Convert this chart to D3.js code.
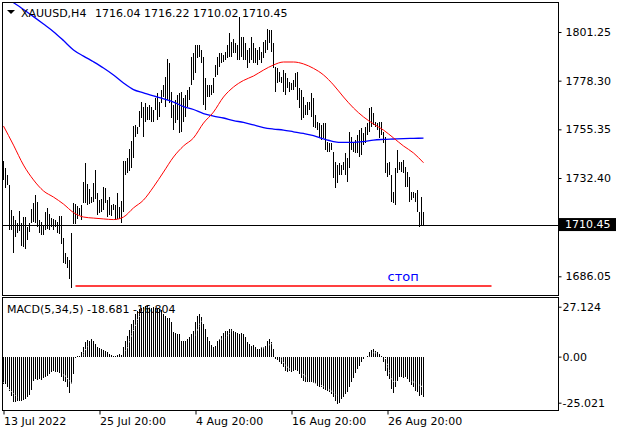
<!DOCTYPE html>
<html>
<head>
<meta charset="utf-8">
<script src="https://cdn.jsdelivr.net/npm/d3@7"></script>
<style>
	body { margin: 0; background: #fff; }
	svg { display: block; font-family: "DejaVu Sans", sans-serif; font-size: 11px; }
</style>
</head>
<body>
<div id="chart"></div>
<script>
// H4 bars, high / low only (bar chart at this zoom shows no open/close ticks)
const highs = [
	1740.6, 1737.0, 1733.8, 1729.1, 1717.3, 1714.5, 1712.6, 1711.3, 1717.0, 1711.0,
	1713.8, 1713.8, 1709.4, 1711.3, 1717.8, 1720.8, 1724.4, 1721.2, 1712.6, 1711.8,
	1710.2, 1716.5, 1718.1, 1715.4, 1713.4, 1712.9, 1712.6, 1711.8, 1714.5, 1714.5,
	1703.9, 1696.9, 1695.0, 1693.7, 1706.3, 1720.4, 1720.1, 1719.2, 1718.1, 1719.7,
	1730.7, 1739.6, 1729.6, 1727.1, 1723.6, 1730.2, 1736.2, 1725.5, 1722.0, 1722.3,
	1728.3, 1727.5, 1722.0, 1723.6, 1719.7, 1720.1, 1719.7, 1725.5, 1718.9, 1721.5,
	1740.6, 1740.6, 1741.7, 1745.9, 1750.0, 1757.0, 1757.4, 1756.6, 1764.0, 1768.4,
	1766.0, 1767.6, 1766.0, 1766.8, 1766.0, 1764.5, 1769.9, 1772.3, 1768.4, 1773.9,
	1776.3, 1780.2, 1788.4, 1786.5, 1773.1, 1766.8, 1769.2, 1771.5, 1772.3, 1773.1,
	1769.9, 1771.5, 1773.9, 1775.5, 1789.6, 1791.5, 1795.1, 1795.1, 1795.1, 1792.8,
	1789.6, 1779.4, 1776.3, 1776.3, 1776.3, 1779.4, 1785.7, 1789.6, 1791.2, 1791.2,
	1790.4, 1792.0, 1795.1, 1800.6, 1796.7, 1797.8, 1795.9, 1795.1, 1808.5, 1799.0,
	1799.0, 1795.9, 1792.8, 1793.5, 1799.0, 1795.9, 1793.5, 1792.8, 1794.3, 1792.0,
	1796.7, 1797.5, 1802.5, 1802.2, 1802.2, 1795.9, 1784.9, 1784.1, 1782.5, 1780.2,
	1783.3, 1781.8, 1779.4, 1777.8, 1777.0, 1778.6, 1781.8, 1782.5, 1774.7, 1773.9,
	1770.8, 1766.8, 1768.4, 1768.4, 1772.3, 1770.0, 1762.1, 1759.0, 1758.2, 1757.4,
	1758.2, 1758.2, 1749.5, 1748.8, 1748.8, 1744.8, 1740.1, 1738.5, 1739.3, 1738.5,
	1740.1, 1744.1, 1741.7, 1754.2, 1751.9, 1749.5, 1750.3, 1752.7, 1755.1, 1755.8,
	1753.5, 1756.6, 1758.2, 1765.2, 1766.0, 1762.9, 1758.9, 1758.2, 1758.9, 1758.9,
	1754.2, 1751.9, 1739.3, 1740.1, 1733.8, 1725.9, 1736.9, 1745.6, 1740.1, 1740.1,
	1740.9, 1737.7, 1735.4, 1733.0, 1725.9, 1725.9, 1725.2, 1726.7, 1716.5, 1723.6,
	1716.22
];
const lows = [
	1731.5, 1727.5, 1729.1, 1707.9, 1707.9, 1697.2, 1704.7, 1706.3, 1707.6, 1700.3,
	1699.7, 1698.8, 1703.2, 1707.1, 1711.0, 1711.8, 1711.3, 1709.4, 1706.6, 1705.5,
	1705.5, 1707.9, 1708.2, 1707.9, 1709.1, 1707.9, 1709.1, 1706.3, 1706.0, 1701.3,
	1692.5, 1691.8, 1689.8, 1684.6, 1680.4, 1710.7, 1710.7, 1712.9, 1715.0, 1712.6,
	1720.4, 1720.8, 1719.7, 1720.1, 1720.4, 1721.2, 1722.3, 1715.0, 1715.7, 1716.5,
	1717.3, 1720.8, 1713.8, 1715.0, 1714.5, 1717.3, 1712.6, 1712.9, 1712.9, 1711.3,
	1716.5, 1733.8, 1734.6, 1735.9, 1737.0, 1741.7, 1751.9, 1753.0, 1756.6, 1760.5,
	1751.9, 1758.9, 1759.7, 1759.7, 1758.9, 1758.9, 1764.5, 1759.7, 1761.3, 1767.6,
	1770.7, 1766.0, 1769.2, 1767.6, 1760.5, 1755.0, 1758.2, 1759.7, 1753.5, 1754.2,
	1758.9, 1761.3, 1766.0, 1769.2, 1776.3, 1778.6, 1781.7, 1788.8, 1789.6, 1786.5,
	1766.8, 1764.5, 1770.7, 1770.7, 1771.5, 1772.3, 1780.2, 1781.0, 1784.9, 1786.5,
	1787.3, 1788.0, 1788.8, 1789.6, 1789.6, 1791.2, 1791.2, 1788.0, 1788.0, 1789.6,
	1788.0, 1788.0, 1784.1, 1786.5, 1788.0, 1786.5, 1786.5, 1785.7, 1788.0, 1786.5,
	1788.8, 1791.2, 1792.8, 1795.9, 1792.0, 1784.1, 1773.1, 1777.0, 1777.8, 1777.0,
	1773.1, 1771.5, 1774.7, 1773.1, 1773.9, 1773.9, 1775.5, 1769.2, 1765.2, 1759.7,
	1760.5, 1762.1, 1762.1, 1764.5, 1761.3, 1756.6, 1755.8, 1755.1, 1751.1, 1750.3,
	1751.1, 1745.6, 1744.8, 1744.8, 1745.6, 1732.2, 1727.5, 1729.9, 1733.8, 1733.8,
	1736.1, 1733.8, 1730.6, 1736.9, 1745.6, 1744.8, 1744.1, 1744.1, 1742.5, 1743.2,
	1748.0, 1748.8, 1752.7, 1754.2, 1756.6, 1757.4, 1756.6, 1755.1, 1751.1, 1752.7,
	1748.8, 1734.6, 1733.0, 1733.8, 1721.2, 1720.4, 1719.7, 1734.6, 1736.1, 1735.4,
	1734.6, 1728.3, 1728.3, 1721.2, 1722.0, 1722.8, 1721.2, 1716.5, 1709.4, 1710.2,
	1710.02
];

// moving averages
const maBars = [
	0, 5, 10, 15, 20, 25, 30, 35, 40, 45, 50, 55, 60, 65, 70, 75, 80, 85, 90, 95, 100,
	105, 110, 115, 120, 125, 130, 135, 140, 145, 150, 155, 160, 165, 170, 175, 180, 185,
	190, 195, 200, 205, 210
];
const redMa = [
	1756.9, 1747.9, 1738.5, 1731.5, 1726.3, 1723.4, 1720.1, 1716.1, 1714.0, 1713.5, 1713.1,
	1712.8, 1714.0, 1718.3, 1722.0, 1728.2, 1735.2, 1742.3, 1747.5, 1751.3, 1758.3,
	1763.5, 1770.6, 1775.3, 1778.4, 1780.5, 1783.3, 1785.7, 1787.1, 1787.1, 1786.2,
	1784.1, 1781.0, 1776.3, 1770.6, 1765.4, 1761.2, 1757.9, 1755.0, 1751.3, 1747.5,
	1744.2, 1739.6
];
const blueMa = [
	1818.2, 1815.1, 1811.9, 1808.5, 1805.0, 1801.4, 1797.2, 1792.8, 1789.9, 1787.2, 1784.3,
	1781.0, 1777.2, 1774.1, 1772.6, 1771.1, 1769.7, 1768.2, 1766.1, 1764.7, 1762.8,
	1761.6, 1760.7, 1759.5, 1758.6, 1757.4, 1756.2, 1755.5, 1755.0, 1754.2, 1753.4,
	1752.4, 1750.8, 1749.6, 1749.2, 1749.2, 1749.6, 1750.3, 1750.6, 1750.8, 1751.0,
	1751.1, 1751.2
];

const macdHist = [
	-14.8, -14.8, -16.6, -18.4, -21.2, -24.8, -24.8, -23.9, -23.9, -23.9,
	-23.5, -23.0, -21.7, -20.6, -18.1, -13.0, -12.1, -12.7, -12.1, -12.7,
	-11.6, -10.8, -10.3, -9.4, -8.5, -8.0, -8.3, -8.5, -9.0, -10.8,
	-13.0, -13.9, -16.6, -19.9, -14.8, -9.4, -0.5, 0.2, 0.5, 2.4,
	5.1, 7.8, 9.0, 8.7, 9.6, 8.7, 6.9, 5.1, 4.7, 4.2,
	3.6, 3.3, 2.4, 1.4, 1.1, 0.5, 0.2, 1.1, 1.4, 1.1,
	5.1, 8.7, 11.4, 14.5, 17.9, 19.7, 23.0, 24.8, 25.7, 26.6,
	27.0, 27.5, 27.5, 27.0, 26.6, 27.0, 26.2, 25.7, 25.7, 25.1,
	23.0, 22.0, 21.0, 21.2, 18.6, 13.2, 12.7, 12.1, 12.1, 8.7,
	8.7, 8.7, 9.6, 10.5, 12.1, 14.1, 18.6, 22.1, 23.0, 21.7,
	17.7, 15.0, 10.5, 8.7, 6.5, 5.4, 6.0, 8.7, 9.6, 11.4,
	12.7, 13.7, 14.1, 15.0, 15.0, 14.1, 13.2, 12.7, 12.1, 12.7,
	12.1, 10.5, 7.8, 6.9, 6.0, 6.5, 5.4, 4.2, 4.2, 5.1,
	5.1, 6.0, 8.7, 9.6, 7.8, 4.2, -1.3, -1.8, -3.1, -4.0,
	-5.8, -7.6, -8.5, -8.0, -8.5, -8.0, -7.2, -7.6, -9.4, -11.6,
	-13.0, -13.9, -13.9, -13.9, -13.9, -14.5, -14.8, -15.7, -16.3, -16.6,
	-17.5, -18.1, -18.4, -19.3, -20.2, -21.7, -23.9, -25.7, -25.3, -23.0,
	-21.7, -20.2, -19.3, -16.6, -13.9, -11.6, -9.0, -6.7, -4.9, -3.1,
	-1.3, -0.4, 0.5, 2.4, 3.6, 4.2, 3.3, 2.4, 1.4, 0.2,
	-3.1, -7.6, -10.3, -12.1, -17.5, -19.9, -16.6, -13.0, -11.2, -10.8,
	-11.6, -11.2, -12.1, -13.9, -15.2, -16.6, -18.4, -19.3, -21.2, -20.6,
	-21.7
];
const macdSignal = [
	-14, -20, -24, -19.3, -12.2, -9.4, -9.9, -14.9, 1.5, 8.8, 4.9, 1.7, 1.8, 14.4, 25.4,
	27.1, 25.1, 19.2, 10.9, 11, 20.6, 9.2, 9.7, 14.4, 12.6, 7.5, 4.8, 7.3, -3.2, -8.1,
	-9.8, -14, -16.2, -19.5, -23.9, -16.3, -5, 2.1, 0.8, -13.5, -12.6, -13.8, -16.8
];

const priceTicks = [1801.25, 1778.30, 1755.35, 1732.40, 1686.05];
const macdTicks = [27.124, 0, -25.021];
const macdTickLabels = ["27.124", "0.00", "-25.021"];
const timeTickBars = [0, 48, 96, 144, 192];
const timeTickLabels = ["13 Jul 2022", "25 Jul 20:00", "4 Aug 20:00", "16 Aug 20:00", "26 Aug 20:00"];

const lastPrice = 1710.45;
const stopPrice = 1681.5;
const stopBars = [36, 244];
const stopLabelBar = 192;

const width = 622, height = 434;
const panelLeft = 2.5, panelRight = 558.5, panelTop = 2.5;
const mainBottom = 295.5, macdTop = 297.5, macdBottom = 410.5;

const x = d3.scaleLinear().domain([0, highs.length - 1]).range([3.5, 423.5]);
const y = d3.scaleLinear().domain([1801.25, 1686.05]).range([32, 276.3]);
const ym = d3.scaleLinear().domain([27.124, -25.021]).range([306.7, 402.7]);

const svg = d3.select("#chart")
	.append("svg")
	.attr("width", width)
	.attr("height", height);

svg.append("defs")
	.append("clipPath")
	.attr("id", "main-clip")
	.append("rect")
	.attr("x", panelLeft)
	.attr("y", panelTop)
	.attr("width", panelRight - panelLeft)
	.attr("height", mainBottom - panelTop);

const main = svg.append("g").attr("clip-path", "url(#main-clip)");

main.selectAll("line.bar")
	.data(highs)
	.enter()
	.append("line")
	.attr("class", "bar")
	.attr("x1", (d, i) => x(i))
	.attr("x2", (d, i) => x(i))
	.attr("y1", d => y(d))
	.attr("y2", (d, i) => y(lows[i]))
	.attr("stroke", "#000")
	.attr("stroke-width", 1)
	.attr("shape-rendering", "crispEdges");

const maLine = d3.line()
	.x((d, k) => x(maBars[k]))
	.y(d => y(d))
	.curve(d3.curveMonotoneX);

main.append("path")
	.attr("d", maLine(blueMa))
	.attr("fill", "none")
	.attr("stroke", "#0000ff")
	.attr("stroke-width", 1.3);

main.append("path")
	.attr("d", maLine(redMa))
	.attr("fill", "none")
	.attr("stroke", "#ff0000")
	.attr("stroke-width", 1);

const lastY = Math.round(y(lastPrice)) + 0.5;
main.append("line")
	.attr("x1", panelLeft)
	.attr("x2", panelRight)
	.attr("y1", lastY)
	.attr("y2", lastY)
	.attr("stroke", "#000")
	.attr("shape-rendering", "crispEdges");

main.append("line")
	.attr("x1", x(stopBars[0]))
	.attr("x2", x(stopBars[1]))
	.attr("y1", y(stopPrice))
	.attr("y2", y(stopPrice))
	.attr("stroke", "#ff0000")
	.attr("stroke-width", 1.5);

main.append("text")
	.attr("x", x(stopLabelBar))
	.attr("y", y(stopPrice) - 4.5)
	.style("font-size", "13px")
	.attr("fill", "#0000ff")
	.text("стоп");

// header
svg.append("path")
	.attr("d", "M7,10 L15,10 L11,14 Z")
	.attr("fill", "#000");
svg.append("text").attr("x", 21).attr("y", 17).text("XAUUSD,H4");
svg.append("text").attr("x", 95).attr("y", 17).text("1716.04 1716.22 1710.02 1710.45");

// MACD window
const macd = svg.append("g");
macd.selectAll("line.hist")
	.data(macdHist)
	.enter()
	.append("line")
	.attr("class", "hist")
	.attr("x1", (d, i) => x(i))
	.attr("x2", (d, i) => x(i))
	.attr("y1", ym(0))
	.attr("y2", d => ym(d))
	.attr("stroke", "#000")
	.attr("shape-rendering", "crispEdges");

macd.append("path")
	.attr("d", d3.line().x((d, k) => x(maBars[k])).y(d => ym(d)).curve(d3.curveMonotoneX)(macdSignal))
	.attr("fill", "none")
	.attr("stroke", "#fff")
	.attr("stroke-width", 1)
	.attr("stroke-dasharray", "1,2");

svg.append("text").attr("x", 7).attr("y", 313).text("MACD(5,34,5) -18.681 -16.804");

// frames
[[panelTop, mainBottom], [macdTop, macdBottom]].forEach(([t, b]) => {
	svg.append("rect")
		.attr("x", panelLeft)
		.attr("y", t)
		.attr("width", panelRight - panelLeft)
		.attr("height", b - t)
		.attr("fill", "none")
		.attr("stroke", "#000")
		.attr("shape-rendering", "crispEdges");
});

// axes
const priceAxis = svg.append("g")
	.attr("transform", `translate(${panelRight},0)`)
	.call(d3.axisRight(y).tickValues(priceTicks).tickSize(3).tickPadding(4).tickFormat(d3.format(".2f")));
priceAxis.select(".domain").remove();

const macdAxis = svg.append("g")
	.attr("transform", `translate(${panelRight},0)`)
	.call(d3.axisRight(ym).tickValues(macdTicks).tickSize(3).tickPadding(1).tickFormat((d, i) => macdTickLabels[i]));
macdAxis.select(".domain").remove();

const timeAxis = svg.append("g")
	.attr("transform", `translate(0,${macdBottom})`)
	.call(d3.axisBottom(x).tickValues(timeTickBars).tickSize(4).tickPadding(3).tickFormat((d, i) => timeTickLabels[i]));
timeAxis.select(".domain").remove();
timeAxis.selectAll("text").attr("text-anchor", "start");

svg.selectAll(".tick text")
	.attr("fill", "#000")
	.style("font-size", "11px")
	.style("font-family", "'DejaVu Sans', sans-serif");

// current price tag
svg.append("rect")
	.attr("x", 559)
	.attr("y", y(lastPrice) - 6.5)
	.attr("width", 57)
	.attr("height", 13)
	.attr("fill", "#000");
svg.append("text")
	.attr("x", 565)
	.attr("y", y(lastPrice))
	.attr("dy", "0.35em")
	.attr("fill", "#fff")
	.text(d3.format(".2f")(lastPrice));
</script>
</body>
</html>
